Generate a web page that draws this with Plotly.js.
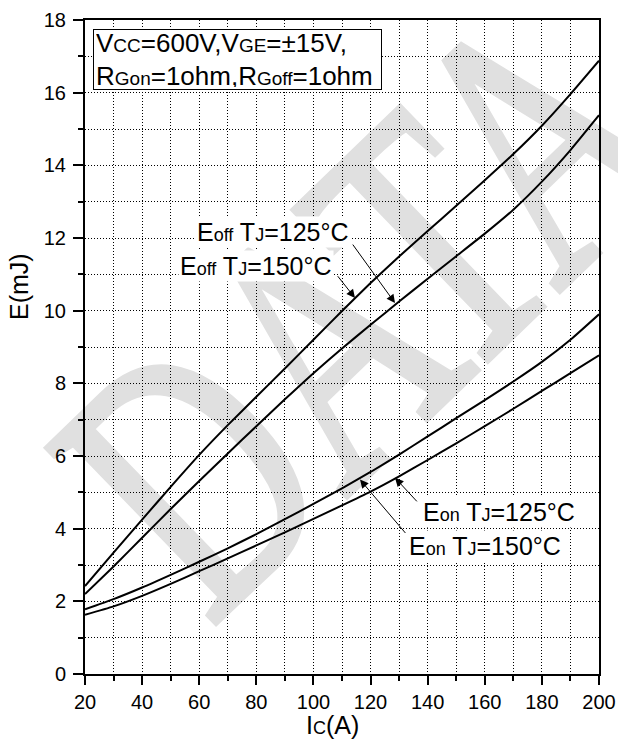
<!DOCTYPE html>
<html>
<head>
<meta charset="utf-8">
<script src="https://cdn.plot.ly/plotly-3.0.1.min.js"></script>
<style>
html,body{margin:0;padding:0;background:#fff;}
#wrap{position:relative;width:618px;height:745px;overflow:hidden;}
#wm{position:absolute;left:0;top:0;}
#chart{position:absolute;left:0;top:0;width:618px;height:745px;}
</style>
</head>
<body>
<div id="wrap">
<svg id="wm" width="618" height="745"><text transform="translate(210 628) rotate(-44) scale(0.7 1)" x="0" y="0" font-family="Liberation Serif, Times New Roman, serif" font-size="370" fill="#e0e0e0" stroke="#e0e0e0" stroke-width="7">DATA</text></svg>
<div id="chart"></div>
</div>
<script>
// Collector current (A)
const Ic = [20,30,40,50,60,70,80,90,100,110,120,130,140,150,160,170,180,190,200];
// Switching energies (mJ)
const Eoff150 = [2.42,3.34,4.25,5.15,6.03,6.85,7.63,8.41,9.20,9.99,10.76,11.49,12.19,12.89,13.59,14.31,15.09,15.96,16.88];
const Eoff125 = [2.2,2.96,3.75,4.54,5.31,6.07,6.82,7.56,8.28,8.96,9.61,10.25,10.88,11.50,12.12,12.78,13.55,14.42,15.38];
const Eon150  = [1.78,2.06,2.38,2.73,3.09,3.46,3.85,4.26,4.68,5.11,5.56,6.04,6.54,7.04,7.54,8.05,8.59,9.20,9.90];
const Eon125  = [1.63,1.86,2.15,2.48,2.83,3.18,3.54,3.90,4.27,4.64,5.02,5.44,5.89,6.35,6.82,7.30,7.79,8.28,8.77];

const FONT = 'Liberation Sans, Arial, sans-serif';
const sub = (t, s) => `<span style="font-size:${s}px">${t}</span>`;

const line = {color:'#000', width:2, shape:'spline', smoothing:0.5};
const traces = [
  {x:Ic, y:Eoff150, mode:'lines', line:line, name:'Eoff TJ=150°C'},
  {x:Ic, y:Eoff125, mode:'lines', line:line, name:'Eoff TJ=125°C'},
  {x:Ic, y:Eon150,  mode:'lines', line:line, name:'Eon TJ=150°C'},
  {x:Ic, y:Eon125,  mode:'lines', line:line, name:'Eon TJ=125°C'}
];

const gridStyle = {gridcolor:'#000', gridwidth:1, griddash:'1px,2px'};

function arrow(tx, ty, hx, hy){
  return {x:hx, y:hy, ax:tx, ay:ty, xref:'x', yref:'y', axref:'x', ayref:'y',
    text:'', showarrow:true, arrowhead:2, arrowsize:1.7, arrowwidth:1, arrowcolor:'#000', standoff:0};
}
function label(txt, x, y){
  return {x:x, y:y, xref:'x', yref:'y', text:txt, showarrow:false, xanchor:'left', yanchor:'middle',
    bgcolor:'#fff', borderpad:1, font:{family:FONT, size:25, color:'#000'}};
}

const annotations = [
  label('E'+sub('off',18)+' T'+sub('J',18)+'=125°C', 58.5, 12.17),
  label('E'+sub('off',18)+' T'+sub('J',18)+'=150°C', 52.6, 11.23),
  label('E'+sub('on',18)+' T'+sub('J',18)+'=125°C', 137.6, 4.47),
  label('E'+sub('on',18)+' T'+sub('J',18)+'=150°C', 132.8, 3.53),
  arrow(108.1, 10.99, 114.55, 10.35),
  arrow(113.4, 11.86, 128.56, 10.21),
  arrow(132.65, 3.84, 116.3, 5.35),
  arrow(136.7, 4.71, 128.56, 5.40),
  {x:0.015, y:0.9858, xref:'paper', yref:'paper', xanchor:'left', yanchor:'top', align:'left', valign:'middle',
   width:283, height:55,
   text:'V'+sub('CC',19)+'=600V,V'+sub('GE',19)+'=±15V,<br>R'+sub('Gon',19)+'=1ohm,R'+sub('Goff',19)+'=1ohm',
   showarrow:false, bgcolor:'#fff', bordercolor:'#000', borderwidth:1, borderpad:2,
   font:{family:FONT, size:26, color:'#000'}},
  {x:0.4813, y:-0.0787, xref:'paper', yref:'paper', xanchor:'center', yanchor:'middle', showarrow:false,
   text:'I'+sub('C',18)+'(A)', font:{family:FONT, size:25, color:'#000'}},
  {x:-0.128, y:0.592, xref:'paper', yref:'paper', xanchor:'center', yanchor:'middle', showarrow:false,
   textangle:-90, text:'E(mJ)', font:{family:FONT, size:25, color:'#000'}}
];

const layout = {
  width:618, height:745,
  margin:{l:85, r:19, t:20, b:70.5, pad:0},
  paper_bgcolor:'rgba(0,0,0,0)', plot_bgcolor:'rgba(0,0,0,0)',
  showlegend:false,
  font:{family:FONT, color:'#000'},
  xaxis:Object.assign({
    range:[20,200], tickmode:'linear', tick0:20, dtick:20,
    ticks:'outside', ticklen:9, tickwidth:2, tickcolor:'#000',
    showline:true, linewidth:2, linecolor:'#000', mirror:true, zeroline:false,
    showgrid:true, tickfont:{family:FONT, size:20, color:'#000'},
    minor:Object.assign({tick0:20, dtick:10, ticks:'outside', ticklen:5, tickwidth:2, tickcolor:'#000', showgrid:true}, gridStyle)
  }, gridStyle),
  yaxis:Object.assign({
    range:[0,18], tickmode:'linear', tick0:0, dtick:2,
    ticks:'outside', ticklen:10, tickwidth:2, tickcolor:'#000', ticklabelstandoff:3,
    showline:true, linewidth:2, linecolor:'#000', mirror:true, zeroline:false,
    showgrid:true, tickfont:{family:FONT, size:20, color:'#000'},
    minor:Object.assign({tick0:0, dtick:1, ticks:'outside', ticklen:5, tickwidth:2, tickcolor:'#000', showgrid:true}, gridStyle)
  }, gridStyle),
  annotations:annotations
};

Plotly.newPlot('chart', traces, layout, {displayModeBar:false, staticPlot:true});
</script>
</body>
</html>
